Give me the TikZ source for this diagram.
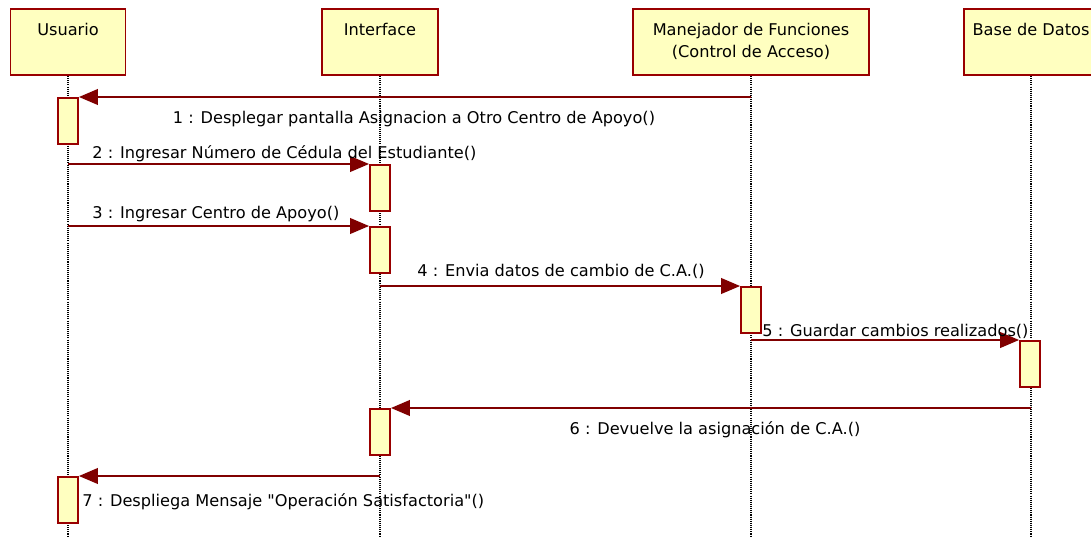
\documentclass[tikz,border=0pt]{standalone}
\usepackage{fontspec}
\setmainfont{DejaVu Sans}
\usetikzlibrary{arrows.meta,positioning}
\definecolor{roseRed}{HTML}{990000}
\definecolor{lineRed}{HTML}{800000}
\definecolor{noteYellow}{HTML}{FFFFC0}
\newcommand{\dq}{\XeTeXglyph\XeTeXcharglyph"22\relax}

\begin{document}
\begin{tikzpicture}[x=0.02cm, y=-0.02cm,
        every node/.style={font=\fontsize{9.2}{12.5}\selectfont},
        head/.style={draw=roseRed, line width=1.1pt, fill=noteYellow,
                     minimum height=1.32cm, inner sep=0pt},
        headtxt/.style={anchor=north, inner sep=0pt, yshift=-0.29cm, align=center},
        act/.style={draw=roseRed, line width=1.1pt, fill=noteYellow, anchor=north,
                    minimum width=0.4cm, minimum height=0.92cm, inner sep=0pt},
        life/.style={dash pattern=on 0.6pt off 0.6pt, line width=0.7pt, draw=black},
        msg/.style={draw=lineRed, line width=0.85pt, -{Triangle[length=10.8pt, width=9pt]}},
        lbl/.style={inner sep=0pt}
    ]
        \useasboundingbox (0,0) rectangle (1091,537);
        \clip (0,0) rectangle (1091,537);

        % objects
        \node[head, minimum width=2.3cm, label={[headtxt]north:Usuario}] (us) at (68,42) {};
        \node[head, minimum width=2.32cm, label={[headtxt]north:Interface}] (if) at (380,42) {};
        \node[head, minimum width=4.72cm,
              label={[headtxt]north:Manejador de Funciones\\(Control de Acceso)}] (mf) at (751,42) {};
        \node[head, minimum width=2.68cm, label={[headtxt]north:Base de Datos}] (bd) at (1031,42) {};

        % lifelines
        \coordinate (bot) at (0,537);
        \draw[life] (us.south) -- (us.south |- bot);
        \draw[life] (if.south) -- (if.south |- bot);
        \draw[life] (mf.south) -- (mf.south |- bot);
        \draw[life] (bd.south) -- (bd.south |- bot);

        % activations
        \node[act] (a1) at (68,97) {};
        \node[act] (a2) at (380,164) {};
        \node[act] (a3) at (380,226) {};
        \node[act] (a4) at (751,286) {};
        \node[act] (a5) at (1030,340) {};
        \node[act] (a6) at (380,408) {};
        \node[act] (a7) at (68,476) {};

        % messages
        \draw[msg] (mf.south |- a1.north) -- (a1.north east);
        \draw[msg] (us.south |- a2.north) -- (a2.north west);
        \draw[msg] (us.south |- a3.north) -- (a3.north west);
        \draw[msg] (if.south |- a4.north) -- (a4.north west);
        \draw[msg] (mf.south |- a5.north) -- (a5.north west);
        \draw[msg] (bd.south |- a6.north) -- (a6.north east);
        \draw[msg] (if.south |- a7.north) -- (a7.north east);

        \node[lbl, anchor=base] (m1) at (414,123) {1 : Desplegar pantalla Asignacion a Otro Centro de Apoyo()};
        \node[lbl, anchor=base west] (m2) at (92,158) {2 : Ingresar Número de Cédula del Estudiante()};
        \node[lbl, anchor=base west] (m3) at (92,218) {3 : Ingresar Centro de Apoyo()};
        \node[lbl, anchor=base] (m4) at (561,276) {4 : Envia datos de cambio de C.A.()};
        \node[lbl, anchor=base west] (m5) at (762,336) {5 : Guardar cambios realizados()};
        \node[lbl, anchor=base] (m6) at (715,434) {6 : Devuelve la asignación de C.A.()};
        \node[lbl, anchor=base west] (m7) at (82,506) {7 : Despliega Mensaje \dq Operación Satisfactoria\dq()};
    \end{tikzpicture}
\end{document}
